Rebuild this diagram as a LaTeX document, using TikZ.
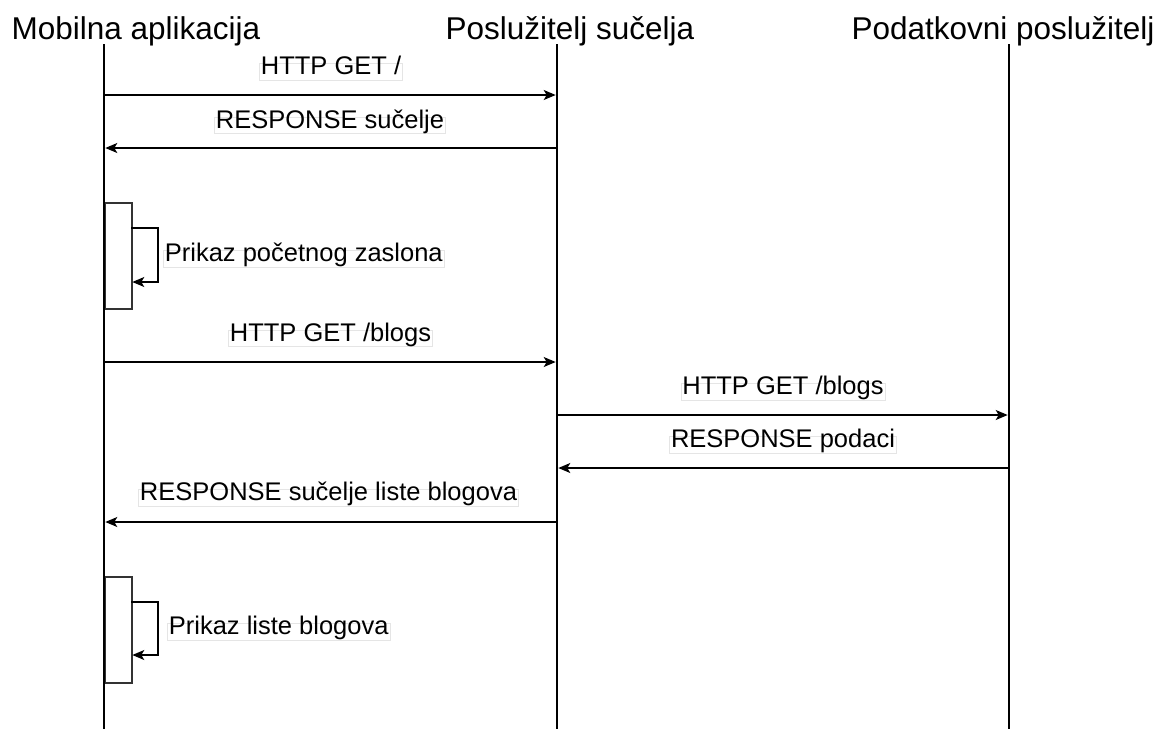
\documentclass[tikz,border=0pt]{standalone}
\usepackage{fontspec}
\setmainfont{Liberation Sans}
\usetikzlibrary{arrows.meta}
\begin{document}
\begin{tikzpicture}[x=1pt,y=-1pt,
  lifeline/.style={line width=2.8pt},
  msg/.style={line width=1.5pt,-{Stealth[length=12pt,width=10pt,inset=3pt]},shorten >=1.3pt},
  lbl/.style={fill=white,draw=black!10,line width=0.8pt,font=\fontsize{25.5}{30}\selectfont,
    inner xsep=1.5pt,inner ysep=3.5pt,text height=0.75em,text depth=0.22em},
  head/.style={font=\fontsize{31.5}{36}\selectfont,inner sep=0pt},
  act/.style={draw=black!80,line width=1.5pt,fill=white,inner sep=0pt,
    minimum width=27pt,minimum height=106pt,anchor=north west}]
\useasboundingbox (0,0) rectangle (1167,729);

% headers
\node[head,anchor=base] (hA) at (136,39) {Mobilna aplikacija};
\node[head,anchor=base] (hB) at (570,39) {Poslužitelj sučelja};
\node[head,anchor=base] (hC) at (1003,39) {Podatkovni poslužitelj};

% activation boxes
\node[act] (act1) at (104,202) {};
\node[act] (act2) at (104,576) {};

% lifelines
\coordinate (A0) at (104,44);  \coordinate (A1) at (104,729);
\coordinate (B0) at (557,44);  \coordinate (B1) at (557,729);
\coordinate (C0) at (1009,44); \coordinate (C1) at (1009,729);
\draw[lifeline] (A0) -- (A1);
\draw[lifeline] (B0) -- (B1);
\draw[lifeline] (C0) -- (C1);

% message end points
\coordinate (m1a) at (104,95);  \coordinate (m1b) at (557,95);
\coordinate (m2a) at (557,148); \coordinate (m2b) at (104,148);
\coordinate (m3a) at (104,362); \coordinate (m3b) at (557,362);
\coordinate (m4a) at (557,415); \coordinate (m4b) at (1009,415);
\coordinate (m5a) at (1009,468);\coordinate (m5b) at (557,468);
\coordinate (m6a) at (557,522); \coordinate (m6b) at (104,522);

\draw[msg] (m1a) -- (m1b);
\draw[msg] (m2a) -- (m2b);
\draw[msg] (m3a) -- (m3b);
\draw[msg] (m4a) -- (m4b);
\draw[msg] (m5a) -- (m5b);
\draw[msg] (m6a) -- (m6b);

% self calls
\coordinate (s1a) at (131,228); \coordinate (s1b) at (131,282);
\coordinate (s2a) at (131,602); \coordinate (s2b) at (131,655);
\draw[msg,line width=1.3pt] (s1a) -- ++(27,0) |- (s1b);
\draw[msg,line width=1.3pt] (s2a) -- ++(27,0) |- (s2b);

% labels
\node[lbl] (l1) at (331,72) {HTTP GET /};
\node[lbl] (l2) at (330,125.5) {RESPONSE sučelje};
\node[lbl] (l3) at (330.5,338.5) {HTTP GET /blogs};
\node[lbl] (l4) at (783,392) {HTTP GET /blogs};
\node[lbl] (l5) at (783,445) {RESPONSE podaci};
\node[lbl] (l6) at (328.5,498) {RESPONSE sučelje liste blogova};
\node[lbl,anchor=west] (l7) at (163,259) {Prikaz početnog zaslona};
\node[lbl,anchor=west] (l8) at (167,632) {Prikaz liste blogova};
\end{tikzpicture}
\end{document}
